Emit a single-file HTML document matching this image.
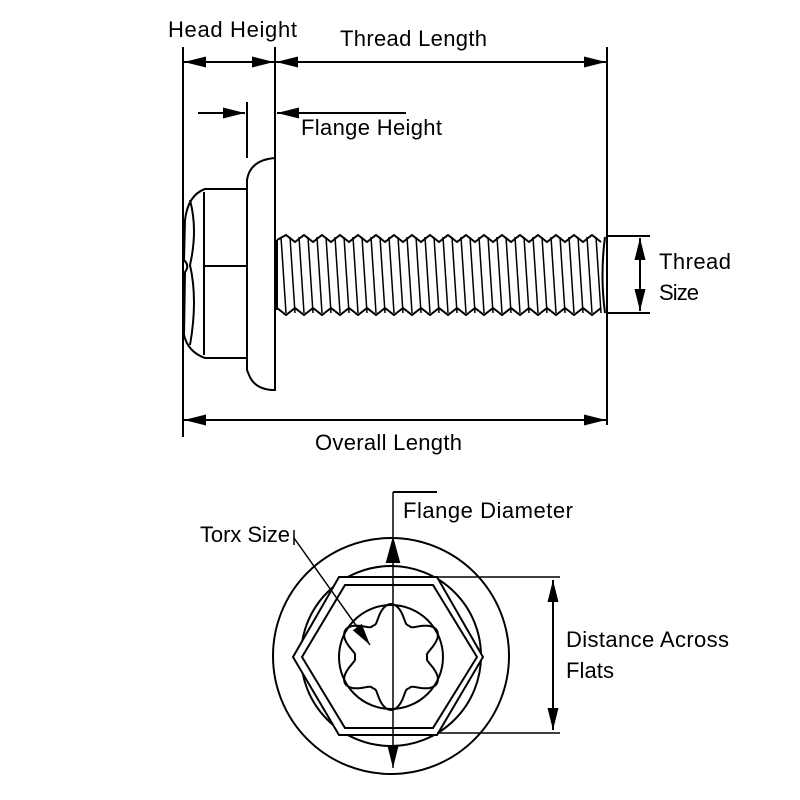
<!DOCTYPE html>
<html><head><meta charset="utf-8"><style>html,body{margin:0;padding:0;background:#fff}svg{display:block}text{font-family:"Liberation Sans",sans-serif;font-size:22px;fill:#000}</style></head>
<body>
<svg id="s" width="800" height="800" viewBox="0 0 800 800" xmlns="http://www.w3.org/2000/svg">
<defs>
<marker id="a" viewBox="0 0 22 11" refX="22" refY="5.5" markerWidth="22" markerHeight="11" markerUnits="userSpaceOnUse" orient="auto-start-reverse"><path d="M0,0L22,5.5L0,11z" fill="#000"/></marker>
</defs>
<g stroke="#000" stroke-width="2" fill="none">
<line x1="183" y1="47" x2="183" y2="437"/>
<line x1="275" y1="47" x2="275" y2="158"/>
<line x1="247" y1="102" x2="247" y2="158"/>
<line x1="607" y1="47" x2="607" y2="425"/>
<line x1="184" y1="62" x2="274" y2="62" marker-start="url(#a)" marker-end="url(#a)"/>
<line x1="276" y1="62" x2="606" y2="62" marker-start="url(#a)" marker-end="url(#a)"/>
<line x1="198" y1="113" x2="245" y2="113" marker-end="url(#a)"/>
<line x1="406" y1="113" x2="277" y2="113" marker-end="url(#a)"/>
<line x1="184" y1="420" x2="606" y2="420" marker-start="url(#a)" marker-end="url(#a)"/>
<line x1="607" y1="236" x2="650" y2="236"/>
<line x1="607" y1="313" x2="650" y2="313"/>
<line x1="640" y1="238" x2="640" y2="311" marker-start="url(#a)" marker-end="url(#a)"/>
<path d="M275,158 L275,390 Q255,390 249,375 L247,370 L247,180 Q250,160 275,158"/>
<path d="M247,189 L205,189 Q188,195 185,220 L184,260 Q190,266 185,272 L184,335 Q188,352 205,358 L247,358"/>
<path d="M204,192 L204,355"/>
<path d="M190,200 Q198,230 190,265 Q198,300 190,345"/>
<line x1="204" y1="266" x2="247" y2="266"/>
<line x1="247" y1="189" x2="247" y2="358"/>
<g id="th"></g>
</g>
<g stroke="#000" stroke-width="2" fill="none">
<circle cx="391" cy="656" r="118"/>
<circle cx="391" cy="656" r="90"/>
<polygon points="293,657 339,577 437,577 483,657 437,735 339,735" fill="#fff"/>
<polygon points="302,657 345,585 433,585 477,657 433,728 345,728"/>
<circle cx="391" cy="657" r="52"/>
<path id="torx"/>
<line x1="393" y1="492" x2="393" y2="768" marker-end="url(#a)" stroke-width="1.5"/>
<line x1="393" y1="492" x2="437" y2="492"/>
<path d="M393,540 L387,562 L399,562z" fill="#000"/>
<line x1="437" y1="577" x2="560" y2="577" stroke-width="1.5"/>
<line x1="437" y1="733" x2="560" y2="733" stroke-width="1.5"/>
<line x1="553" y1="580" x2="553" y2="730" marker-start="url(#a)" marker-end="url(#a)"/>
<line x1="294" y1="530" x2="294" y2="545" stroke-width="1.5"/>
<line x1="294" y1="538" x2="370" y2="645" marker-end="url(#a)" stroke-width="1.5"/>
</g>
<text x="168" y="37" textLength="129">Head Height</text>
<text x="340" y="46" textLength="147">Thread Length</text>
<text x="301" y="135" textLength="141">Flange Height</text>
<text x="659" y="269" textLength="72">Thread</text>
<text x="659" y="300" textLength="40">Size</text>
<text x="315" y="450" textLength="147">Overall Length</text>
<text x="403" y="518" textLength="170">Flange Diameter</text>
<text x="200" y="542" textLength="90">Torx Size</text>
<text x="566" y="647" textLength="163">Distance Across</text>
<text x="566" y="678" textLength="48">Flats</text>
</svg>
<script>
var g=document.getElementById('th'),d='M277,240';
for(var x=277;x<600;x+=18){d+=' L'+(x+9)+',235 L'+(x+18)+',242';}
d+=' M277,308';
for(var x=277;x<600;x+=18){d+=' L'+(x+9)+',315 L'+(x+18)+',308';}
var p='';for(var x=277;x<600;x+=9){p+=' M'+(x+4)+',237 L'+(x+9)+',313';}
g.innerHTML='<path d="'+d+'"/><path d="'+p+'" stroke-width="1.5"/><line x1="277" y1="240" x2="277" y2="310"/><path d="M605,237 Q600,275 605,313"/>';
var t='';for(var i=0;i<=360;i+=2){var a=i*Math.PI/180;var r=44-9*Math.cos(6*a-Math.PI);r=Math.max(r,36);var x=391+r*Math.sin(a),y=657-r*Math.cos(a);t+=(i?'L':'M')+x.toFixed(1)+','+y.toFixed(1);}
document.getElementById('torx').setAttribute('d',t+'z');
</script>
</body></html>
